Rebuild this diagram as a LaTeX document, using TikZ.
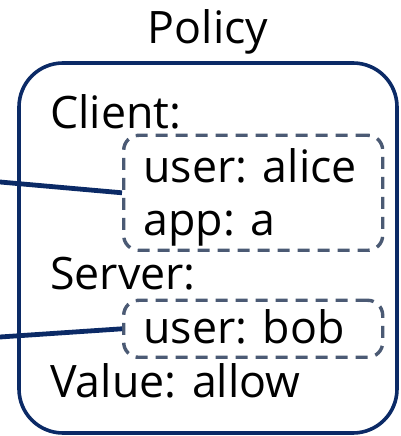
\documentclass[tikz,border=0pt]{standalone}
\usepackage{fontspec}
\setmainfont{Open Sans}
\usepackage{xcolor}
\usetikzlibrary{positioning}

\definecolor{policyblau}{HTML}{0B2A66}
\definecolor{graublau}{HTML}{4B5A74}

\tikzset{
    zeile/.style = {anchor = base west, inner sep = 0pt, font = \fontsize{31.8}{40}\selectfont},
    gruppe/.style = {draw = graublau, line width = 0.085cm, dash pattern = on 0.3cm off 0.2cm, rounded corners = 0.375cm, inner sep = 0pt},
    leitung/.style = {draw = policyblau, line width = 0.12cm}
}

\begin{document}
\begin{tikzpicture}
    % Größe der Bildumgebung
        \useasboundingbox (0, 0) rectangle (10.025, 10.9);

    % Rahmen der Policy
        \draw[policyblau, line width = 0.09cm, rounded corners = 1.1cm] (0.475, 0.075) rectangle (9.925, 9.325);
        \node[zeile, anchor = base] (titel) at (5.2, 9.825) {Policy};

    % Gruppen
        \node[gruppe, anchor = south west, minimum width = 6.475cm, minimum height = 2.875cm] (client) at (3.05, 4.6) {};
        \node[gruppe, anchor = south west, minimum width = 6.475cm, minimum height = 1.425cm] (server) at (3.05, 1.925) {};

    % Einträge
        \node[zeile] (clientlabel) at (1.25, 7.675) {Client:};
        \node[zeile] (user1) at (3.58, 6.35) {user: alice};
        \node[zeile] (app) at (3.58, 5.0) {app: a};
        \node[zeile] (serverlabel) at (1.25, 3.65) {Server:};
        \node[zeile] (user2) at (3.58, 2.325) {user: bob};
        \node[zeile] (value) at (1.25, 0.975) {Value: allow};

    % Verbindungen
        \coordinate (ein1) at (0, 6.35);
        \coordinate (ein2) at (0, 2.475);
        \draw[leitung] (ein1) -- (client.west);
        \draw[leitung] (ein2) -- (server.west);
\end{tikzpicture}
\end{document}
